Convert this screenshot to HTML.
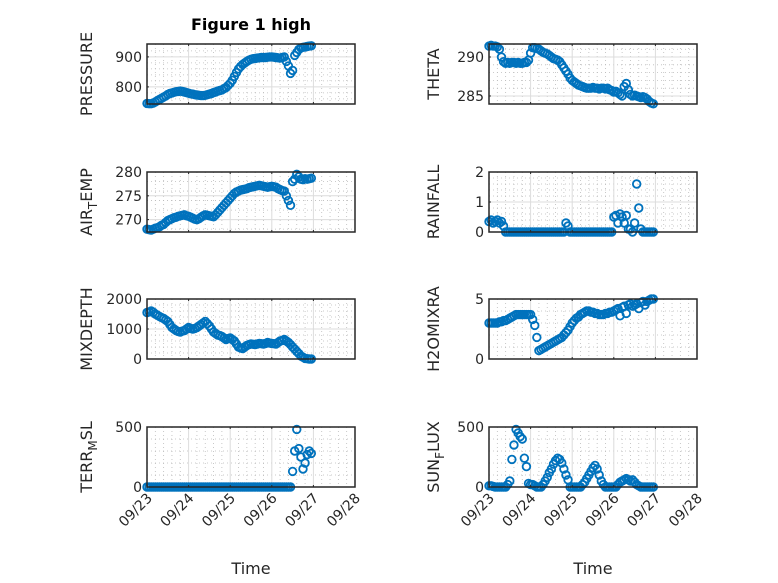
<!DOCTYPE html>
<html><head><meta charset="utf-8"><style>
html,body{margin:0;padding:0;background:#fff;}
svg{display:block;font-family:"DejaVu Sans","Liberation Sans",sans-serif;}
</style></head><body>
<svg id="fig" width="778" height="583" viewBox="0 0 778 583" xmlns="http://www.w3.org/2000/svg">
<rect width="778" height="583" fill="#fff"/>
<text x="251" y="30" font-size="16" font-weight="bold" text-anchor="middle" fill="#000">Figure 1 high</text>
</svg>
<script>
const days = [0,0.05,0.1,0.15,0.2,0.25,0.3,0.35,0.4,0.45,0.5,0.55,0.6,0.65,0.7,0.75,0.8,0.85,0.9,0.95,1.0,1.05,1.1,1.15,1.2,1.25,1.3,1.35,1.4,1.45,1.5,1.55,1.6,1.65,1.7,1.75,1.8,1.85,1.9,1.95,2.0,2.05,2.1,2.15,2.2,2.25,2.3,2.35,2.4,2.45,2.5,2.55,2.6,2.65,2.7,2.75,2.8,2.85,2.9,2.95,3.0,3.05,3.1,3.15,3.2,3.25,3.3,3.35,3.4,3.45,3.5,3.55,3.6,3.65,3.7,3.75,3.8,3.85,3.9,3.95];
const xTickLabels = ["09/23","09/24","09/25","09/26","09/27","09/28"];
const pressure = [745,744,744,746,750,754,758,762,766,770,775,778,780,782,784,785,786,785,783,781,779,777,776,774,773,772,771,771,772,774,776,778,781,783,786,788,790,794,798,805,812,822,835,848,860,868,875,880,885,889,892,894,895,896,897,898,898,898,899,900,900,899,898,897,896,898,900,885,870,845,855,905,915,925,930,932,933,935,936,937];
const theta = [291.4,291.5,291.4,291.4,291.3,291.0,290.0,289.4,289.2,289.3,289.2,289.3,289.3,289.2,289.3,289.2,289.2,289.3,289.3,289.6,290.5,291.2,291.2,291.1,291.0,290.8,290.6,290.5,290.4,290.2,290.0,289.8,289.7,289.6,289.4,289.0,288.6,288.2,287.8,287.3,287.0,286.8,286.6,286.4,286.3,286.2,286.1,286.0,286.0,286.0,286.1,286.0,286.0,285.9,286.0,286.0,285.9,286.0,285.8,285.7,285.5,285.6,285.4,285.2,285.0,286.2,286.6,285.8,285.2,285.0,285.1,285.0,284.9,284.8,284.9,284.8,284.6,284.3,284.1,284.0];
const airTemp = [268.0,267.9,267.8,268.0,268.2,268.3,268.5,268.8,269.0,269.4,269.8,270.0,270.2,270.4,270.5,270.7,270.8,270.9,271.0,270.8,270.7,270.5,270.3,270.1,270.0,270.2,270.5,270.8,271.0,270.9,270.8,270.7,270.6,271.0,271.5,272.0,272.5,273.0,273.5,274.0,274.5,275.0,275.5,275.8,276.0,276.2,276.3,276.4,276.5,276.7,276.8,276.9,277.0,277.1,277.2,277.1,277.0,276.9,276.8,276.9,277.0,276.9,276.8,276.5,276.3,276.1,276.0,275.0,274.0,273.0,278.0,278.5,279.5,279.0,278.5,278.4,278.6,278.5,278.6,278.7];
const rainfall = [0.35,0.4,0.3,0.35,0.4,0.3,0.35,0.2,0,0,0,0,0,0,0,0,0,0,0,0,0,0,0,0,0,0,0,0,0,0,0,0,0,0,0,0,0,0.3,0.2,0,0,0,0,0,0,0,0,0,0,0,0,0,0,0,0,0,0,0,0,0,0.5,0.55,0.3,0.6,0.5,0.3,0.55,0.1,0.1,0,0.3,1.6,0.8,0.1,0,0,0,0,0,0];
const mixDepth = [1550,1570,1600,1560,1500,1460,1420,1380,1350,1300,1250,1150,1050,1000,950,920,900,930,950,1000,1050,1020,1000,1020,1050,1100,1150,1200,1250,1180,1100,1000,900,850,800,780,750,700,650,680,700,650,600,500,400,370,350,400,450,480,500,490,480,500,520,510,500,520,550,530,520,510,500,550,600,620,650,600,550,480,400,330,250,180,100,60,20,10,0,0];
const h2oMix = [3.0,3.0,3.0,3.0,3.0,3.1,3.1,3.2,3.2,3.3,3.4,3.5,3.6,3.7,3.7,3.7,3.7,3.7,3.7,3.7,3.7,3.3,2.8,1.8,0.7,0.8,0.9,1.0,1.1,1.2,1.3,1.4,1.5,1.6,1.7,1.8,2.0,2.2,2.4,2.7,3.0,3.2,3.4,3.5,3.7,3.8,3.9,4.0,4.0,3.9,3.9,3.8,3.8,3.7,3.7,3.7,3.8,3.8,3.9,3.9,4.0,4.1,4.2,3.6,4.3,4.4,3.8,4.5,4.6,4.4,4.5,4.6,4.2,4.7,4.8,4.5,4.8,4.9,5.0,5.0];
const terrMsl = [0,0,0,0,0,0,0,0,0,0,0,0,0,0,0,0,0,0,0,0,0,0,0,0,0,0,0,0,0,0,0,0,0,0,0,0,0,0,0,0,0,0,0,0,0,0,0,0,0,0,0,0,0,0,0,0,0,0,0,0,0,0,0,0,0,0,0,0,0,0,130,300,480,320,250,150,200,270,300,280];
const sunFlux = [10,10,5,0,0,0,0,0,0,20,50,230,350,480,450,420,400,240,170,30,20,20,10,0,0,0,20,50,80,120,150,190,220,240,230,200,150,100,60,0,0,0,0,0,0,20,40,70,100,130,160,180,150,100,50,20,0,0,0,0,0,0,20,40,50,60,70,60,50,60,40,20,10,0,0,0,0,0,0,0];

const NS="http://www.w3.org/2000/svg";
const svg=document.getElementById('fig');
function mk(tag,attrs,parent){const e=document.createElementNS(NS,tag);for(const k in attrs)e.setAttribute(k,attrs[k]);(parent||svg).appendChild(e);return e;}

const panels=[
 {name:'pressure',lab:['PRESSURE'],data:pressure,ymin:743,ymax:943,ticks:[800,900],minor:[760,780,820,840,860,880,920],col:0,row:0},
 {name:'theta',lab:['THETA'],data:theta,ymin:283.97,ymax:291.67,ticks:[285,290],minor:[286,287,288,289,291],col:1,row:0},
 {name:'air-temp',lab:['AIR','T','EMP'],data:airTemp,ymin:267.4,ymax:280,ticks:[270,275,280],minor:[268,272,274,276,278],col:0,row:1},
 {name:'rainfall',lab:['RAINFALL'],data:rainfall,ymin:0,ymax:2,ticks:[0,1,2],minor:[0.2,0.4,0.6,0.8,1.2,1.4,1.6,1.8],col:1,row:1},
 {name:'mixdepth',lab:['MIXDEPTH'],data:mixDepth,ymin:0,ymax:2000,ticks:[0,1000,2000],minor:[200,400,600,800,1200,1400,1600,1800],col:0,row:2},
 {name:'h2o-mixratio',lab:['H2OMIXRA'],data:h2oMix,ymin:0,ymax:5,ticks:[0,5],minor:[1,2,3,4],col:1,row:2},
 {name:'terr-msl',lab:['TERR','M','SL'],data:terrMsl,ymin:0,ymax:500,ticks:[0,500],minor:[100,200,300,400],col:0,row:3},
 {name:'sun-flux',lab:['SUN','F','LUX'],data:sunFlux,ymin:0,ymax:500,ticks:[0,500],minor:[100,200,300,400],col:1,row:3}
];
const colX=[147,489], W=208, rowY=[44,172,299,427], H=60;

panels.forEach(p=>{
 const L=colX[p.col], T=rowY[p.row], B=T+H, R=L+W;
 const g=mk('g',{});
 
 
 const xs=d=>L+d/5*W;
 const ys=v=>B-(v-p.ymin)/(p.ymax-p.ymin)*H;
 mk('rect',{x:L,y:T,width:W,height:H,fill:'#fff'},g);
 for(let d=0.2;d<5;d+=0.2){ if(Math.abs(d-Math.round(d))<0.01) continue; mk('line',{x1:xs(d),x2:xs(d),y1:T,y2:B,stroke:'#bbb','stroke-width':0.8,'stroke-dasharray':'1 3'},g);}
 p.minor.forEach(v=>mk('line',{x1:L,x2:R,y1:ys(v),y2:ys(v),stroke:'#bbb','stroke-width':0.8,'stroke-dasharray':'1 3'},g));
 for(let d=1;d<5;d++) mk('line',{x1:xs(d),x2:xs(d),y1:T,y2:B,stroke:'#dcdcdc','stroke-width':1},g);
 p.ticks.forEach(v=>mk('line',{x1:L,x2:R,y1:ys(v),y2:ys(v),stroke:'#dcdcdc','stroke-width':1},g));
 const dg=mk('g',{},g);
 
 
 p.data.forEach((v,i)=>{
  const c=mk('circle',{cx:xs(days[i]),cy:ys(v),r:3.8,fill:'none',stroke:'#0072BD','stroke-width':1.8},dg);
  
  
 });
 mk('rect',{x:L,y:T,width:W,height:H,fill:'none',stroke:'#262626','stroke-width':1.5},g);
 for(let d=0;d<=5;d++){mk('line',{x1:xs(d),x2:xs(d),y1:B,y2:B-2,stroke:'#262626'},g);mk('line',{x1:xs(d),x2:xs(d),y1:T,y2:T+2,stroke:'#262626'},g);}
 p.ticks.forEach(v=>{
  mk('line',{x1:L,x2:L+2,y1:ys(v),y2:ys(v),stroke:'#262626'},g);
  const t=mk('text',{x:L-5,y:ys(v)+5,'font-size':14,'text-anchor':'end',fill:'#262626'},g);
  t.textContent=String(v);
  
  
 });
 const ylab=mk('text',{x:0,y:0,'font-size':16,'text-anchor':'middle',fill:'#262626',transform:`translate(${L-(p.col? 50:55)},${T+H/2}) rotate(-90)`},g);
 
 
 if(p.lab.length===1){ylab.textContent=p.lab[0];}
 else{
  const a=mk('tspan',{},ylab);a.textContent=p.lab[0];
  const b=mk('tspan',{dy:5,'font-size':12},ylab);b.textContent=p.lab[1];
  const c=mk('tspan',{dy:-5},ylab);c.textContent=p.lab[2];
 }
 if(p.row===3){
  xTickLabels.forEach((s,d)=>{
   const t=mk('text',{x:0,y:0,'font-size':14,'text-anchor':'end',fill:'#262626',transform:`translate(${xs(d)+6},${B+12}) rotate(-45)`},g);
   t.textContent=s;
   
   
  });
  const xl=mk('text',{x:L+W/2,y:574,'font-size':16,'text-anchor':'middle',fill:'#262626'},g);
  xl.textContent='Time';
  
  
 }
});
</script>
</body></html>
